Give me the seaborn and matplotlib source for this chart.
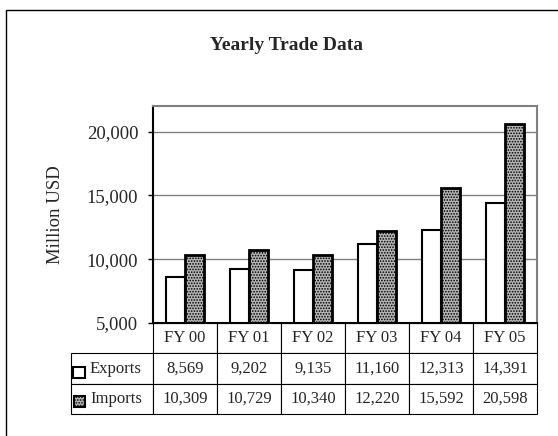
import numpy as np
import pandas as pd
import matplotlib.pyplot as plt
import matplotlib.patches as mpatches
import seaborn as sns

# chart data
years = ["FY 00", "FY 01", "FY 02", "FY 03", "FY 04", "FY 05"]
exports = [8569, 9202, 9135, 11160, 12313, 14391]
imports = [10309, 10729, 10340, 12220, 15592, 20598]
series = ["Exports", "Imports"]
y_ticks = [5000, 10000, 15000, 20000]

sns.set_style("white")
plt.rcParams['font.family'] = ['Liberation Serif', 'DejaVu Serif']
plt.rcParams['hatch.linewidth'] = 0.8

W, H = 558, 436
gray_fill = "#b4b4b4"
pattern = "......"

df = pd.DataFrame({
    "Year": years * 2,
    "Value": exports + imports,
    "Series": [series[0]] * len(years) + [series[1]] * len(years),
})

fig = plt.figure(figsize=(W / 100, H / 100), dpi=100)
ax = fig.add_axes([153 / W, 113 / H, 384 / W, 217 / H])

sns.barplot(data=df, x="Year", y="Value", hue="Series",
            palette=["white", gray_fill], width=0.6,
            edgecolor="black", linewidth=1.5, legend=False, ax=ax)

# patterned fill for imports
for bar in ax.containers[1]:
    bar.set_hatch(pattern)
    bar.set_linewidth(2.0)

ax.set_ylim(5000, 22000)
ax.set_yticks(y_ticks)
ax.set_yticklabels([f"{t:,}" for t in y_ticks])
ax.set_xticks([])
ax.set_xlabel("")
ax.tick_params(axis="y", direction="out", length=3.6, width=1,
               color="black", pad=7, labelsize=13.5, left=True)
ax.yaxis.grid(True, color="#808080", linewidth=1)
ax.set_axisbelow(True)

ax.set_ylabel("Million USD", fontsize=13.5)
ax.yaxis.set_label_coords((64 - 153) / 384, 0.5)

for side in ["left", "bottom"]:
    ax.spines[side].set_color("black")
    ax.spines[side].set_linewidth(1.5)
for side in ["top", "right"]:
    ax.spines[side].set_color("#808080")
    ax.spines[side].set_linewidth(1.5)

# data table under the plot
cell_text = [[""] + years,
             [series[0]] + [f"{v:,}" for v in exports],
             [series[1]] + [f"{v:,}" for v in imports]]
tbl = ax.table(cellText=cell_text, cellLoc="center",
               colWidths=[82] + [64] * len(years),
               bbox=[-82 / 384, -91 / 217, (384 + 82) / 384, 91 / 217])
tbl.auto_set_font_size(False)
tbl.set_fontsize(12)
for (r, c), cell in tbl.get_celld().items():
    cell.set_edgecolor("black")
    cell.set_linewidth(0.8)
    if c == 0:
        cell.get_text().set_ha("left")
        cell.PAD = 19 / 82
tbl[0, 0].set_visible(False)

# legend keys inside the table row labels
fig.add_artist(mpatches.Rectangle((73 / W, 1 - 378 / H), 12 / W, 11 / H,
                                  facecolor="white", edgecolor="black",
                                  linewidth=1.5, transform=fig.transFigure))
fig.add_artist(mpatches.Rectangle((74 / W, 1 - 407 / H), 11 / W, 11 / H,
                                  facecolor=gray_fill, edgecolor="black",
                                  hatch=pattern, linewidth=1.5,
                                  transform=fig.transFigure))

fig.text(286 / W, 1 - 45 / H, "Yearly Trade Data", ha="center", va="center",
         fontsize=14, fontweight="bold")

# chart area border
fig.add_artist(mpatches.Rectangle((6 / W, -0.1), 2, (1 - 10 / H) + 0.1,
                                  fill=False, edgecolor="black", linewidth=1,
                                  transform=fig.transFigure))

fig.savefig("out.png", dpi=100)
